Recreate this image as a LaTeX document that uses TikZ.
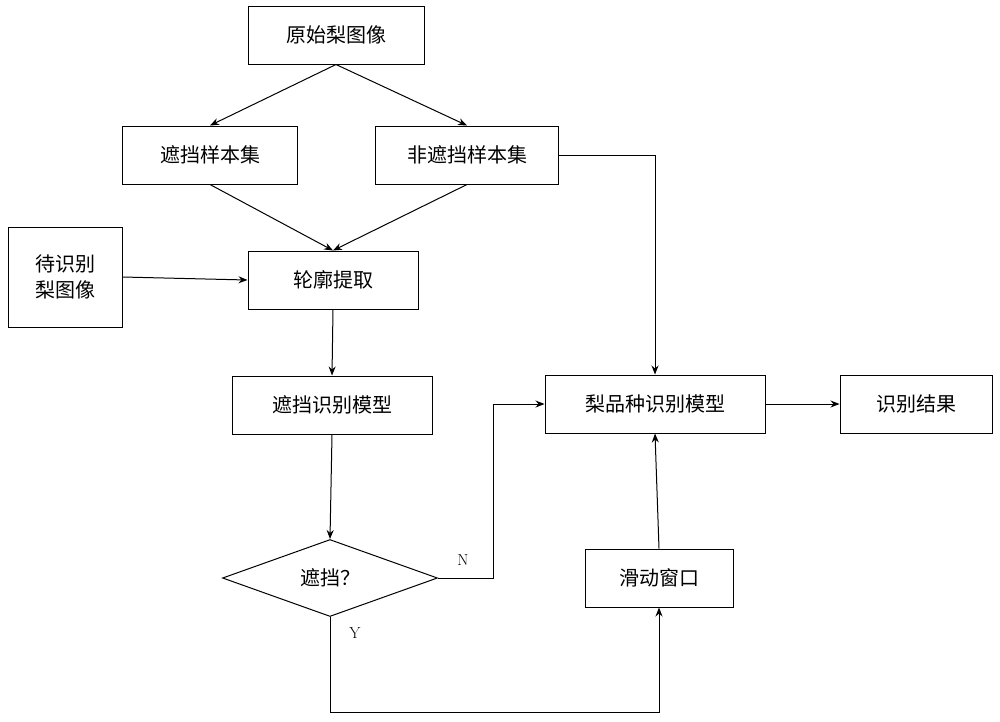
\documentclass[tikz,border=0pt]{standalone}
\usepackage{fontspec}
\newfontfamily\cjk{Noto Sans CJK SC}
\usetikzlibrary{shapes.geometric,arrows.meta}
\begin{document}
\begin{tikzpicture}[x=1pt,y=-1pt,
  box/.style={draw,line width=1pt,minimum width=#1,minimum height=58pt,font=\cjk\fontsize{20}{26}\selectfont,align=center,inner sep=0pt},
  arr/.style={line width=1pt,-{Stealth[length=9pt,width=7pt]}}]
\useasboundingbox (0,0) rectangle (1000,721);
\node[box=176pt] (a) at (336,35) {原始梨图像};
\node[box=175pt] (b) at (210,155) {遮挡样本集};
\node[box=183pt] (c) at (467,155) {非遮挡样本集};
\node[box=114pt,minimum height=100pt] (d) at (65,277) {待识别\\梨图像};
\node[box=170pt] (e) at (333,280) {轮廓提取};
\node[box=200pt] (f) at (332,405) {遮挡识别模型};
\node[box=220pt] (g) at (655,404) {梨品种识别模型};
\node[box=152pt] (h) at (916,404) {识别结果};
\node[draw,line width=1pt,diamond,aspect=2.8,minimum width=215pt,minimum height=77pt,inner sep=0pt,font=\cjk\fontsize{20}{26}\selectfont] (k) at (330,578) {遮挡？};
\node[box=148pt] (w) at (659,578) {滑动窗口};
\draw[arr] (a.south) -- (b.north);
\draw[arr] (a.south) -- (c.north);
\draw[arr] (b.south) -- (e.north);
\draw[arr] (c.south) -- (e.north);
\draw[arr] (c.east) -- (655,155) -- (g.north);
\draw[arr] (d.east) -- (e.west);
\draw[arr] (e.south) -- (f.north);
\draw[arr] (f.south) -- (k.north);
\draw[arr] (k.east) -- (493,578) -- (493,404) -- (g.west);
\draw[arr] (k.south) -- (330,712) -- (659,712) -- (w.south);
\draw[arr] (w.north) -- (g.south);
\draw[arr] (g.east) -- (h.west);
\node[font=\fontsize{16}{18}\selectfont] (n) at (463,560) {N};
\node[font=\fontsize{16}{18}\selectfont] (y) at (355,633) {Y};
\end{tikzpicture}
\end{document}
